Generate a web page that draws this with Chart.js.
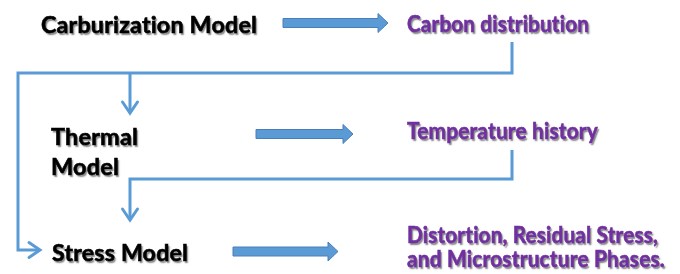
<!DOCTYPE html>
<html>
<head>
<meta charset="utf-8">
<script src="https://cdn.jsdelivr.net/npm/chart.js@4.4.1/dist/chart.umd.min.js"></script>
<style>
html,body{margin:0;padding:0;background:#fff;}
#wrap{width:680px;height:274px;position:relative;}
</style>
</head>
<body>
<div id="wrap"><canvas id="c"></canvas></div>
<script>
// ---- node labels (text, left x, baseline y in layout units) ----
const nodeText  = ["Carburization Model","Carbon distribution","Thermal","Model","Temperature history","Stress Model","Distortion, Residual Stress,","and Microstructure Phases."];
const nodeX     = [41, 407, 51, 51, 407, 52, 407, 407];
const nodeY     = [33, 32, 145, 175, 139, 261, 243, 267];
const nodeRight = [257, 589, 138, 120, 598, 188, 658, 665];
const nodeKind  = ["model","result","model","model","result","model","result","result"];

// ---- block arrows (model -> result) ----
const blockFrom = [283, 256, 233];
const blockTo   = [388, 353, 338];
const blockY    = [23, 134, 251.5];

// ---- connector polylines ----
const conn1X = [512, 512, 18, 18, 39];
const conn1Y = [42, 73, 73, 250, 250];
const conn2X = [130, 130];
const conn2Y = [73, 112];
const conn3X = [512, 512, 130, 130];
const conn3Y = [150, 179, 179, 219];

// ---- open arrow heads: tip x, tip y, direction ----
const headX   = [130, 130, 40];
const headY   = [113, 220, 250];
const headDir = ["down", "down", "right"];

const BLUE = '#5B9BD5';
const zip = (xs, ys) => xs.map((x, i) => ({x, y: ys[i]}));

function blockPolygon(x0, x1, y) {
  const shaft = 4.5, head = 9.5, headLen = 10;
  return [
    {x: x0, y: y - shaft}, {x: x1 - headLen, y: y - shaft}, {x: x1 - headLen, y: y - head},
    {x: x1, y: y}, {x: x1 - headLen, y: y + head}, {x: x1 - headLen, y: y + shaft},
    {x: x0, y: y + shaft}, {x: x0, y: y - shaft}
  ];
}
function chevron(x, y, dir) {
  const s = 7.5, l = 11;
  if (dir === 'down') return [{x: x - s, y: y - l}, {x, y}, {x: x + s, y: y - l}];
  return [{x: x - l, y: y - s}, {x, y}, {x: x - l, y: y + s}];
}

const lineDs = (data, w) => ({type: 'line', data, borderColor: BLUE, borderWidth: w, pointRadius: 0,
  fill: false, tension: 0, borderJoinStyle: 'miter', borderCapStyle: 'butt'});

const datasets = [];
datasets.push(lineDs(zip(conn1X, conn1Y), 3));
datasets.push(lineDs(zip(conn2X, conn2Y), 3));
datasets.push(lineDs(zip(conn3X, conn3Y), 3));
headX.forEach((x, i) => datasets.push(Object.assign(lineDs(chevron(x, headY[i], headDir[i]), 3), {borderCapStyle: 'round'})));
blockFrom.forEach((x0, i) => datasets.push({type: 'line', data: blockPolygon(x0, blockTo[i], blockY[i]),
  borderColor: '#4A7EBB', borderWidth: 1, backgroundColor: BLUE, fill: 'shape', pointRadius: 0, tension: 0}));

const textPlugin = {
  id: 'nodeText',
  afterDatasetsDraw(chart) {
    const ctx = chart.ctx, sx = chart.scales.x, sy = chart.scales.y;
    ctx.save();
    nodeText.forEach((t, i) => {
      const x = sx.getPixelForValue(nodeX[i]);
      const y = sy.getPixelForValue(nodeY[i]);
      const w = sx.getPixelForValue(nodeRight[i]) - x;
      ctx.font = "bold 23.5px Lato, 'Open Sans', sans-serif";
      if ('letterSpacing' in ctx) ctx.letterSpacing = '0.2px';
      ctx.textBaseline = 'alphabetic';
      ctx.textAlign = 'left';
      ctx.shadowColor = 'rgba(0,0,0,0.5)';
      ctx.shadowOffsetX = 1.5; ctx.shadowOffsetY = 1.5; ctx.shadowBlur = 1.5;
      ctx.fillStyle = nodeKind[i] === 'model' ? '#000000' : '#7030A0';
      ctx.fillText(t, x, y, w);
      ctx.shadowColor = 'transparent';
      ctx.lineWidth = 0.6;
      ctx.strokeStyle = ctx.fillStyle;
      ctx.strokeText(t, x, y, w);
    });
    ctx.restore();
  }
};

new Chart(document.getElementById('c'), {
  type: 'scatter',
  data: {datasets},
  options: {
    responsive: true, maintainAspectRatio: false, animation: false,
    layout: {padding: 0},
    plugins: {legend: {display: false}, tooltip: {enabled: false}},
    scales: {
      x: {type: 'linear', min: 0, max: 680, display: false},
      y: {type: 'linear', min: 0, max: 274, reverse: true, display: false}
    }
  },
  plugins: [textPlugin]
});
</script>
</body>
</html>
